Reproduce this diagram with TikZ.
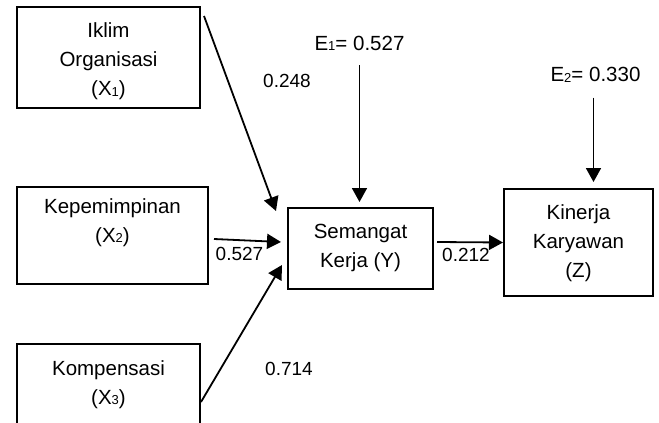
\documentclass[tikz,border=0pt]{standalone}
\usepackage{fontspec}
\setmainfont{Liberation Sans}
\usetikzlibrary{arrows.meta,calc}
\newcommand{\subidx}[1]{\raisebox{-0.5pt}{\fontsize{13}{13}\selectfont #1}}

\begin{document}
\begin{tikzpicture}[
    x=1pt, y=-1pt,
    varbox/.style={rectangle, draw=black, line width=2pt, inner sep=0pt},
    varlabel/.style={align=center, font=\fontsize{20.5}{29}\selectfont, inner sep=0pt},
    coef/.style={font=\fontsize{19}{19}\selectfont, inner sep=0pt},
    path/.style={line width=1.8pt, -{Triangle[length=14pt,width=15pt]}}
]
    \useasboundingbox (0,0) rectangle (659,423);
    \clip (0,0) rectangle (659,423);
    \node[varbox, minimum width=183, minimum height=101] (x1) at (108.5,57.5) {};
    \node[varbox, minimum width=191, minimum height=97] (x2) at (112.5,235.5) {};
    \node[varbox, minimum width=183, minimum height=101] (x3) at (108.5,394.5) {};
    \node[varbox, minimum width=145, minimum height=81] (y) at (360.5,248.5) {};
    \node[varbox, minimum width=149, minimum height=107] (z) at (578.5,242.5) {};
    \node[varlabel] (x1t) at (108.5,61.5) {Iklim\\Organisasi\\(X\subidx{1})};
    \node[varlabel] (x2t) at (112.5,222.5) {Kepemimpinan\\(X\subidx{2})};
    \node[varlabel] (x3t) at (108.5,384.5) {Kompensasi\\(X\subidx{3})};
    \node[varlabel] (yt) at (360.5,247.5) {Semangat\\Kerja (Y)};
    \node[varlabel] (zt) at (578.5,243) {Kinerja\\Karyawan\\(Z)};
    \node[coef, font=\fontsize{20.5}{20.5}\selectfont] (e1) at (359.5,43.5) {E\subidx{1}= 0.527};
    \begin{scope}
        \clip (520,55) rectangle (659,82);
        \node[coef, font=\fontsize{20.5}{20.5}\selectfont] (e2) at (595.5,75) {E\subidx{2}= 0.330};
    \end{scope}
    \node[coef] (c1) at (287,81) {0.248};
    \node[coef] (c2) at (239.5,254) {0.527};
    \node[coef] (c3) at (289,368.5) {0.714};
    \node[coef] (c4) at (466,254.5) {0.212};
    % paths
    \draw[path] ($(x1.north east)+(3,10)$) -- ($(y.north west)+(-11,4)$);
    \draw[path] ($(x2.east)+(5,3.5)$) -- ($(y.west)+(-6,-6.5)$);
    \draw[path] ($(x3.east)+(0,7.5)$) -- ($(y.west)+(-5,16.5)$);
    \draw[path] ($(y.east)+(3,-6.5)$) -- (z.west);
    \draw[path, shorten <=14pt, shorten >=5pt] (e1.south) -- (e1 |- y.north);
    \draw[path, shorten <=15pt, shorten >=6pt] ($(e2.south)+(-2,0)$) -- ($(e2 |- z.north)+(-2,0)$);
\end{tikzpicture}
\end{document}
